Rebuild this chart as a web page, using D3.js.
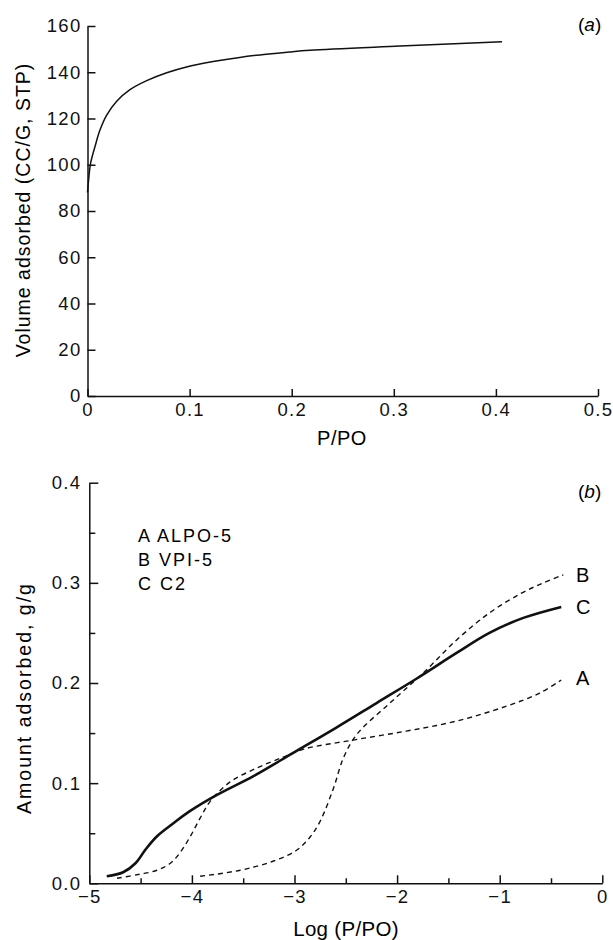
<!DOCTYPE html>
<html>
<head>
<meta charset="utf-8">
<script src="https://cdn.jsdelivr.net/npm/d3@7"></script>
<style>
  body { margin: 0; background: #fff; }
  svg { display: block; font-family: "Liberation Sans", Arial, Helvetica, sans-serif; }
  .tick text { font-size: 18.5px; letter-spacing: 1.3px; fill: #111; }
  .domain, .tick line { stroke: #111; stroke-width: 1.5; }
</style>
</head>
<body>
<svg></svg>
<script>
// panel (a): nitrogen isotherm
const isoP = [0, 0.001, 0.003, 0.0073, 0.0122, 0.0188, 0.0286, 0.0416, 0.058, 0.0776, 0.097, 0.123, 0.149, 0.175, 0.198, 0.218, 0.306, 0.406];
const isoV = [88, 93, 100.6, 107.8, 115, 121.5, 127.5, 132.5, 136.4, 139.8, 142.3, 144.6, 146.4, 147.8, 148.8, 149.5, 151.3, 153.2];
const topXTicks = [0, 0.1, 0.2, 0.3, 0.4, 0.5];
const topYTicks = [0, 20, 40, 60, 80, 100, 120, 140, 160];

// panel (b): log isotherms
const aLog = [-4.73, -4.51, -4.34, -4.21, -4.12, -4.02, -3.92, -3.82, -3.63, -3.37, -3.11, -2.91, -2.43, -1.91, -1.42, -0.93, -0.61, -0.4];
const aVal = [0.005, 0.009, 0.013, 0.02, 0.03, 0.046, 0.065, 0.082, 0.101, 0.115, 0.126, 0.134, 0.143, 0.152, 0.162, 0.177, 0.19, 0.203];
const bLog = [-3.92, -3.53, -3.21, -2.98, -2.85, -2.75, -2.62, -2.52, -2.39, -2.07, -1.745, -1.42, -1.1, -0.8, -0.575, -0.38];
const bVal = [0.007, 0.013, 0.022, 0.033, 0.046, 0.062, 0.095, 0.126, 0.149, 0.18, 0.21, 0.243, 0.27, 0.289, 0.3, 0.308];
const cLog = [-4.83, -4.67, -4.55, -4.45, -4.34, -4.18, -4.02, -3.76, -3.4, -3.0, -2.6, -2.2, -1.8, -1.42, -1.1, -0.77, -0.4];
const cVal = [0.007, 0.011, 0.02, 0.034, 0.047, 0.06, 0.072, 0.088, 0.107, 0.131, 0.155, 0.18, 0.205, 0.23, 0.25, 0.265, 0.276];
const botXTicks = [-5, -4, -3, -2, -1, 0];
const botXMinor = [-4.5, -3.5, -2.5, -1.5, -0.5];
const botYTicks = [0, 0.1, 0.2, 0.3, 0.4];
const botYMinor = [0.05, 0.15, 0.25, 0.35];
const legendLines = ["A ALPO-5", "B VPI-5", "C C2"];
const endLabels = [{ name: "B", y: 0.308 }, { name: "C", y: 0.276 }, { name: "A", y: 0.205 }];

const svg = d3.select("svg").attr("width", 613).attr("height", 940);

// ---- top panel ----
const xa = d3.scaleLinear().domain([0, 0.5]).range([87.5, 598]);
const ya = d3.scaleLinear().domain([0, 160]).range([396, 26]);
const fmtA = d => d === 0 ? "0" : d3.format(".1f")(d);

svg.append("g").attr("transform", "translate(0,396)")
  .call(d3.axisBottom(xa).tickValues(topXTicks).tickFormat(fmtA).tickSizeInner(-7).tickSizeOuter(0).tickPadding(7));
svg.append("g").attr("transform", "translate(87.5,0)")
  .call(d3.axisLeft(ya).tickValues(topYTicks).tickSizeInner(-8).tickSizeOuter(0).tickPadding(6));

svg.append("path")
  .datum(isoP.map((p, i) => [p, isoV[i]]))
  .attr("fill", "none").attr("stroke", "#111").attr("stroke-width", 1.5)
  .attr("d", d3.line().x(d => xa(d[0])).y(d => ya(d[1])).curve(d3.curveCatmullRom.alpha(0.5)));

svg.append("text").attr("x", 342).attr("y", 445).attr("text-anchor", "middle")
  .attr("font-size", 20).attr("letter-spacing", "0.5px").text("P/PO");
svg.append("text").attr("transform", "translate(30,210) rotate(-90)").attr("text-anchor", "middle")
  .attr("font-size", 19.5).attr("letter-spacing", "1px").text("Volume adsorbed (CC/G, STP)");
svg.append("text").attr("x", 578).attr("y", 31).attr("font-size", 19)
  .html('(<tspan font-style="italic">a</tspan>)');

// ---- bottom panel ----
const xb = d3.scaleLinear().domain([-5, 0]).range([89.3, 602.3]);
const yb = d3.scaleLinear().domain([0, 0.4]).range([883.3, 482.7]);

svg.append("g").attr("transform", "translate(0,883.3)")
  .call(d3.axisBottom(xb).tickValues(botXTicks).tickFormat(d3.format("d")).tickSizeInner(-8).tickSizeOuter(0).tickPadding(7));
svg.append("g").attr("transform", "translate(0,883.3)")
  .call(d3.axisBottom(xb).tickValues(botXMinor).tickFormat("").tickSizeInner(-5).tickSizeOuter(0))
  .call(g => g.select(".domain").remove());
svg.append("g").attr("transform", "translate(89.3,0)")
  .call(d3.axisLeft(yb).tickValues(botYTicks).tickFormat(d3.format(".1f")).tickSizeInner(-9).tickSizeOuter(0).tickPadding(8));
svg.append("g").attr("transform", "translate(89.3,0)")
  .call(d3.axisLeft(yb).tickValues(botYMinor).tickFormat("").tickSizeInner(-6).tickSizeOuter(0))
  .call(g => g.select(".domain").remove());

const lineB = d3.line().x(d => xb(d[0])).y(d => yb(d[1])).curve(d3.curveCatmullRom.alpha(0.5));
const series = [
  { xs: aLog, ys: aVal, width: 1.4, dash: "5,4" },
  { xs: bLog, ys: bVal, width: 1.4, dash: "5,4" },
  { xs: cLog, ys: cVal, width: 2.6, dash: null }
];
series.forEach(s => {
  svg.append("path")
    .datum(s.xs.map((x, i) => [x, s.ys[i]]))
    .attr("fill", "none").attr("stroke", "#111").attr("stroke-width", s.width)
    .attr("stroke-dasharray", s.dash)
    .attr("d", lineB);
});

svg.selectAll(".endlab").data(endLabels).enter().append("text")
  .attr("x", 576).attr("y", d => yb(d.y)).attr("dy", "0.36em")
  .attr("font-size", 20).text(d => d.name);

svg.selectAll(".leg").data(legendLines).enter().append("text")
  .attr("x", 138).attr("y", (d, i) => 542 + i * 24)
  .attr("font-size", 18).attr("letter-spacing", "2px").text(d => d);

svg.append("text").attr("x", 578).attr("y", 498).attr("font-size", 19)
  .html('(<tspan font-style="italic">b</tspan>)');
svg.append("text").attr("x", 346).attr("y", 936).attr("text-anchor", "middle")
  .attr("font-size", 20.5).attr("letter-spacing", "0.3px").text("Log (P/PO)");
svg.append("text").attr("transform", "translate(31,698) rotate(-90)").attr("text-anchor", "middle")
  .attr("font-size", 19.5).attr("letter-spacing", "2px").text("Amount adsorbed, g/g");
</script>
</body>
</html>
